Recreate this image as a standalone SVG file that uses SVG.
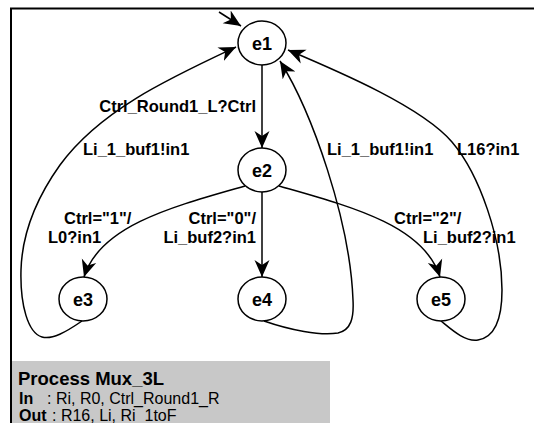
<svg xmlns="http://www.w3.org/2000/svg" width="534" height="423" viewBox="0 0 534 423">
  <style>
    .state { fill: #ffffff; stroke: #000000; stroke-width: 1.5; }
    .arrow { fill: none; stroke: #000000; stroke-width: 1.5; marker-end: url(#head); }
    .name { font-family: "Liberation Sans", Arial, sans-serif; font-size: 18px; font-weight: bold; text-anchor: middle; }
    .lbl { font-family: "Liberation Sans", Arial, sans-serif; font-size: 16.5px; font-weight: bold; }
    .info { font-family: "Liberation Sans", Arial, sans-serif; font-size: 16px; }
  </style>
  <defs>
    <marker id="head" markerUnits="userSpaceOnUse" markerWidth="19" markerHeight="17" refX="17" refY="8.5" orient="auto">
      <path d="M0,1 L17,8.5 L0,16 L5,8.5 z" fill="#000000"/>
    </marker>
  </defs>

  <rect width="534" height="423" fill="#ffffff"/>

  <!-- process frame: top and left edges, info block -->
  <g id="frame">
    <path d="M11,423 L11,8.5 L534,8.5" fill="none" stroke="#000000" stroke-width="2"/>
    <rect x="12" y="361" width="318" height="62" fill="#c8c8c8"/>
    <text class="lbl" x="18" y="385" style="font-size:18.5px">Process Mux_3L</text>
    <text class="info" y="404"><tspan x="19" font-weight="bold">In</tspan><tspan x="47">: Ri, R0, Ctrl_Round1_R</tspan></text>
    <text class="info" y="421"><tspan x="19" font-weight="bold">Out</tspan><tspan x="52">: R16, Li, Ri_1toF</tspan></text>
  </g>

  <g id="connectors">
    <!-- initial transition -->
    <path class="arrow" d="M219,12 L241,26"/>
    <!-- e1 -> e2 -->
    <path class="arrow" d="M262,65 L262,148"/>
    <!-- e2 -> e3 -->
    <path class="arrow" d="M245,186 C175,206 100,225 84,277"/>
    <!-- e2 -> e4 -->
    <path class="arrow" d="M262,192 L262,277"/>
    <!-- e2 -> e5 -->
    <path class="arrow" d="M279,186 C349,206 424,225 440,277"/>
    <!-- e3 -> e1 -->
    <path class="arrow" d="M82,321 C66,332 52,340 42,337 C28,333 20,305 21,270 C22,235 35,200 60,165 C100,110 170,78 236,47"/>
    <!-- e4 -> e1 -->
    <path class="arrow" d="M264,321 C290,330 320,336 338,333 C351,330 354,318 353,300 C350,220 312,112 280,61"/>
    <!-- e5 -> e1 -->
    <path class="arrow" d="M441,321 C452,330 465,342 478,340 C496,337 502,318 502,290 C502,240 480,175 452,142 C422,107 340,72 288,50"/>

    <text class="lbl" x="256" y="112" text-anchor="end">Ctrl_Round1_L?Ctrl</text>
    <text class="lbl" x="83" y="155">Li_1_buf1!in1</text>
    <text class="lbl" x="327" y="155">Li_1_buf1!in1</text>
    <text class="lbl" x="457" y="155">L16?in1</text>
    <text class="lbl" x="64" y="224">Ctrl="1"/</text>
    <text class="lbl" x="48" y="243">L0?in1</text>
    <text class="lbl" x="256" y="224" text-anchor="end">Ctrl="0"/</text>
    <text class="lbl" x="256" y="243" text-anchor="end">Li_buf2?in1</text>
    <text class="lbl" x="394" y="224">Ctrl="2"/</text>
    <text class="lbl" x="423" y="243">Li_buf2?in1</text>
  </g>

  <g id="e1">
    <ellipse class="state" cx="262" cy="43" rx="24" ry="22"/>
    <text class="name" x="262" y="49.5">e1</text>
  </g>
  <g id="e2">
    <ellipse class="state" cx="262" cy="170" rx="24" ry="22"/>
    <text class="name" x="262" y="176.5">e2</text>
  </g>
  <g id="e3">
    <ellipse class="state" cx="83" cy="299" rx="24" ry="22"/>
    <text class="name" x="83" y="305.5">e3</text>
  </g>
  <g id="e4">
    <ellipse class="state" cx="262" cy="299" rx="24" ry="22"/>
    <text class="name" x="262" y="305.5">e4</text>
  </g>
  <g id="e5">
    <ellipse class="state" cx="441" cy="299" rx="24" ry="22"/>
    <text class="name" x="441" y="305.5">e5</text>
  </g>
</svg>
